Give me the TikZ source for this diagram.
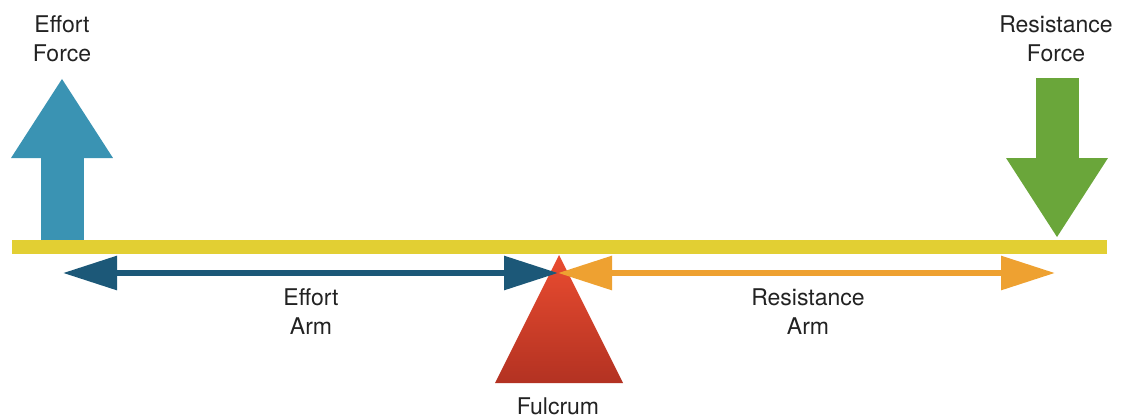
\documentclass[tikz,border=0pt]{standalone}
\usepackage{fontspec}
\setmainfont{TeX Gyre Heros}
\usetikzlibrary{arrows.meta}
\definecolor{effortblue}{HTML}{3A93B3}
\definecolor{armblue}{HTML}{1C5878}
\definecolor{resgreen}{HTML}{6AA63A}
\definecolor{beamyellow}{HTML}{E2CF33}
\definecolor{armorange}{HTML}{EEA131}
\definecolor{fultop}{HTML}{EA4C30}
\definecolor{fulbot}{HTML}{B33222}
\definecolor{labeltext}{HTML}{222222}
\tikzset{
  lbl/.style={align=center, inner sep=0pt, text=labeltext,
    font=\fontsize{23}{29}\selectfont},
  forcearrow/.style={line width=43pt, -{Triangle[length=80pt,width=96pt]}},
  armarrow/.style={line width=6pt, {Triangle[length=54pt,width=33pt]}-{Triangle[length=54pt,width=33pt]}},
}
\begin{document}
\begin{tikzpicture}[x=1pt,y=-1pt]
\useasboundingbox (0,0) rectangle (1123,418);
% fulcrum
\coordinate (apex) at (559,255);
\coordinate (fbl) at (495,383);
\coordinate (fbr) at (623,383);
\shade[top color=fultop, bottom color=fulbot] (apex) -- (fbr) -- (fbl) -- cycle;
% beam
\fill[beamyellow] (12,240) rectangle (1107,254);
% force arrows
\coordinate (effbase) at (62,240);
\coordinate (efftip) at (62,78);
\coordinate (resbase) at (1057,78);
\coordinate (restip) at (1057,238);
\draw[forcearrow, effortblue] (effbase) -- (efftip);
\draw[forcearrow, resgreen] (resbase) -- (restip);
% arm arrows
\coordinate (armL) at (63,273);
\coordinate (armM) at (558,273);
\coordinate (armR) at (1055,273);
\draw[armarrow, armblue] (armL) -- (armM);
\draw[armarrow, armorange] (armM) -- (armR);
% labels
\node[lbl] (effortforce) at (62,39) {Effort\\Force};
\node[lbl] (resforce) at (1056,39) {Resistance\\Force};
\node[lbl] (effortarm) at (311,312) {Effort\\Arm};
\node[lbl] (resarm) at (808,312) {Resistance\\Arm};
\node[lbl] (fulcrum) at (558,406) {Fulcrum};
\end{tikzpicture}
\end{document}
